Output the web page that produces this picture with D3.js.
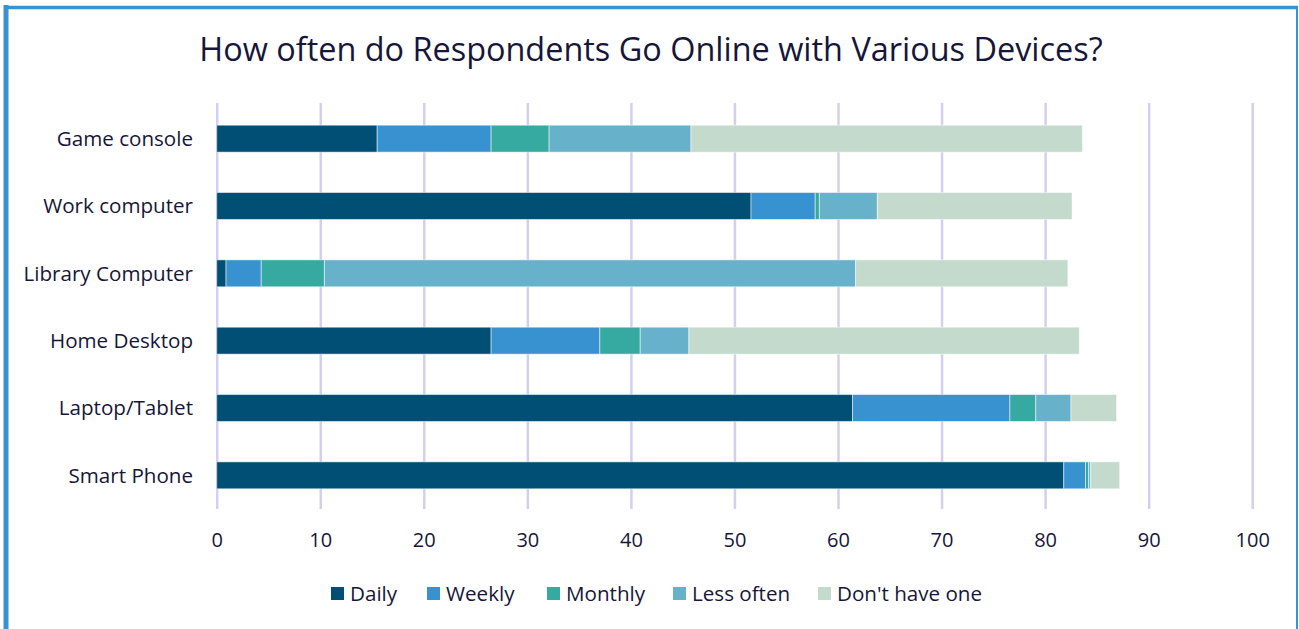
<!DOCTYPE html>
<html>
<head>
<meta charset="utf-8">
<script src="https://cdn.jsdelivr.net/npm/d3@7"></script>
<style>
html,body{margin:0;padding:0;background:#fff;}
svg{display:block;}
text{font-family:"Open Sans","Noto Sans",sans-serif;fill:#16163a;}
</style>
</head>
<body>
<svg id="chart" width="1299" height="629"></svg>
<script>
const title = "How often do Respondents Go Online with Various Devices?";
const categories = ["Game console","Work computer","Library Computer","Home Desktop","Laptop/Tablet","Smart Phone"];
const seriesNames = ["Daily","Weekly","Monthly","Less often","Don't have one"];
const colors = ["#024f75","#3792cf","#36a9a0","#67b1cb","#c3dacd"];
const daily     = [15.5, 51.6, 0.9, 26.5, 61.4, 81.8];
const weekly    = [11.0,  6.2, 3.4, 10.5, 15.2,  2.1];
const monthly   = [ 5.6,  0.4, 6.1,  3.9,  2.5,  0.3];
const lessOften = [13.7,  5.6, 51.3, 4.7,  3.4,  0.2];
const dontHave  = [37.8, 18.8, 20.5, 37.7,  4.4,  2.8];
const xTicks = [0,10,20,30,40,50,60,70,80,90,100];

const seriesValues = [daily, weekly, monthly, lessOften, dontHave];
const rows = categories.map((c,i)=>{
  const r = {category:c};
  seriesNames.forEach((s,j)=>{ r[s] = seriesValues[j][i]; });
  return r;
});

const svg = d3.select("#chart");

// frame
svg.append("line").attr("x1",6).attr("x2",6).attr("y1",5).attr("y2",629).attr("stroke","#3792cf").attr("stroke-width",5);
svg.append("line").attr("x1",4).attr("x2",1298).attr("y1",7.5).attr("y2",7.5).attr("stroke","#3792cf").attr("stroke-width",3.5);
svg.append("line").attr("x1",1297).attr("x2",1297).attr("y1",6).attr("y2",629).attr("stroke","#3792cf").attr("stroke-width",2);

const x = d3.scaleLinear().domain([0,100]).range([216.7,1252.2]);
const y = d3.scaleBand().domain(categories).range([105,509]).paddingInner(0.6).paddingOuter(0.3);

// title
const t = svg.append("text").attr("x",651).attr("y",61).attr("text-anchor","middle")
  .style("font-size","31px").text(title);
const tw = t.node().getComputedTextLength();
t.style("font-size", (31*904/tw).toFixed(2)+"px");

// gridlines
svg.append("g").attr("transform","translate(0,509)")
  .call(d3.axisBottom(x).tickValues(xTicks).tickSize(-406).tickFormat(""))
  .call(g=>g.select(".domain").remove())
  .call(g=>g.selectAll(".tick line").attr("stroke","#d3cff0").attr("stroke-width",2.5));

// tick labels
svg.append("g").attr("transform","translate(0,509)")
  .call(d3.axisBottom(x).tickValues(xTicks).tickSize(0).tickPadding(0).tickFormat(d3.format("d")))
  .call(g=>g.select(".domain").remove())
  .call(g=>g.selectAll(".tick text").attr("y",38).attr("dy",0)
    .style("font-size","20px").style("font-family","'Open Sans',sans-serif").attr("fill","#16163a"));

// category labels
svg.append("g").attr("transform","translate(193,0)")
  .call(d3.axisLeft(y).tickSize(0).tickPadding(0))
  .call(g=>g.select(".domain").remove())
  .call(g=>g.selectAll(".tick text").attr("dy","0.35em")
    .style("font-size","20.6px").style("font-family","'Open Sans',sans-serif").attr("fill","#16163a"));

// bars
const stack = d3.stack().keys(seriesNames)(rows);
svg.append("g").selectAll("g").data(stack).join("g")
  .attr("fill",(d,i)=>colors[i])
  .selectAll("rect").data(d=>d).join("rect")
  .attr("x",d=>x(d[0]))
  .attr("width",d=>Math.max(0,x(d[1])-x(d[0])))
  .attr("y",d=>y(d.data.category))
  .attr("height",y.bandwidth())
  .attr("stroke","#ffffff").attr("stroke-opacity",0.5).attr("stroke-width",1);

// legend
const legendX = [331,427,547,673,818];
const lg = svg.append("g");
seriesNames.forEach((s,i)=>{
  const g = lg.append("g").attr("transform",`translate(${legendX[i]},594)`);
  g.append("rect").attr("x",0).attr("y",-7).attr("width",13).attr("height",13).attr("fill",colors[i]);
  g.append("text").attr("x",19).attr("y",0).attr("dy","0.35em").style("font-size","20.6px").text(s);
});
</script>
</body>
</html>
